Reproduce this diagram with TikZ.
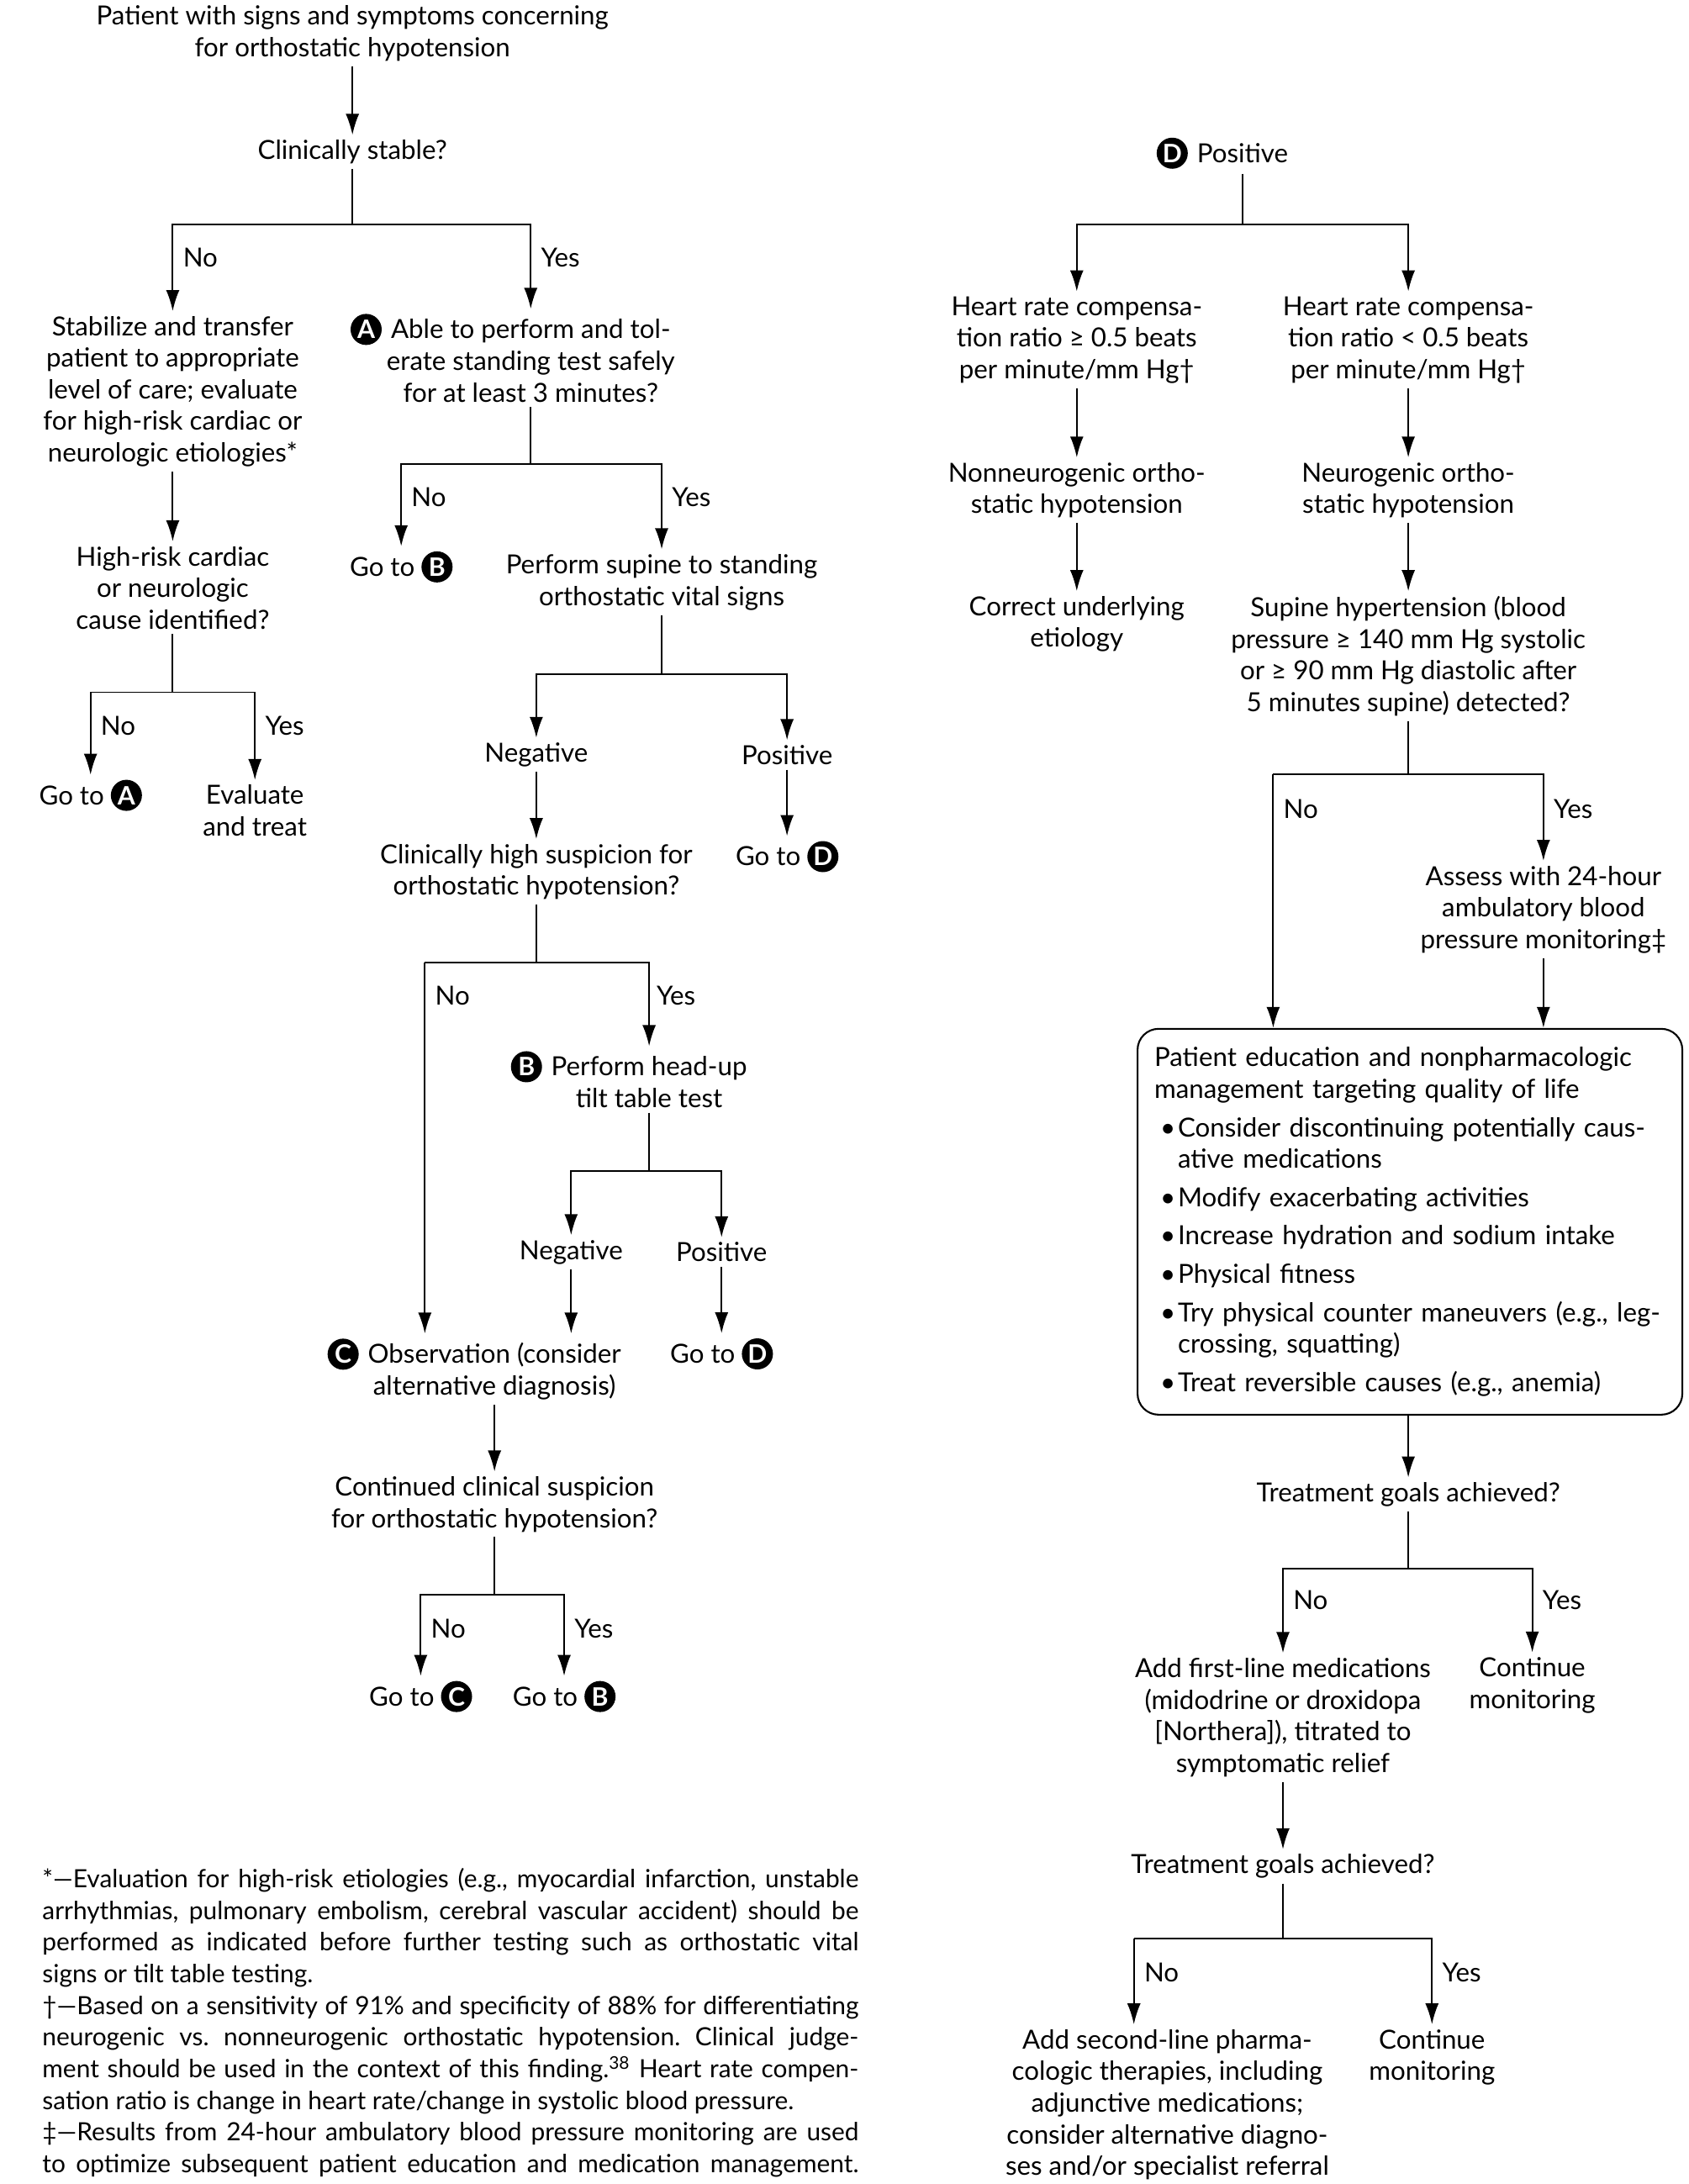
\documentclass[tikz,border=0pt]{standalone}
\usepackage{fontspec}
\setmainfont{Lato}
\usetikzlibrary{arrows.meta}
\tikzset{>={Latex[length=2.5mm,width=1.6mm]}}
\frenchspacing
\newcommand{\flowfont}{\fontsize{8.9pt}{10.7pt}\selectfont}
\newcommand{\notefont}{\fontsize{8.5pt}{10.7pt}\selectfont}
\newcommand{\badge}[1]{\tikz[baseline=(bdg.base)]\node[circle,fill=black,text=white,inner sep=0pt,minimum size=3.7mm,font=\bfseries\fontsize{8.6pt}{8.6pt}\selectfont] (bdg) {#1};}
\newcommand{\hbadge}[1]{\llap{\badge{#1}\hspace{1.1mm}}}
\newcommand{\blt}{\makebox[2.8mm][l]{\hspace{0.7mm}\textbullet}}
\tikzset{
  txt/.style={align=center, inner sep=1.5pt, font=\flowfont},
  lbl/.style={anchor=west, inner sep=0pt, font=\flowfont},
  arr/.style={->, line width=0.55pt},
  bar/.style={line width=0.55pt},
  edubox/.style={draw, line width=0.6pt, rounded corners=2.5mm, anchor=north west, align=left, text width=60.8mm, minimum height=45.9mm, inner xsep=2mm, inner ysep=2mm, font=\flowfont},
  note/.style={anchor=north west, text width=97.1mm, align=justify, inner sep=0pt, font=\notefont}
}
\begin{document}
\begin{tikzpicture}[x=0.1657mm, y=-0.1657mm]
\useasboundingbox (0,0) rectangle (1212,1568);
\node[txt] (pat) at (253,24) {Patient with signs and symptoms concerning\\for orthostatic hypotension};
\node[txt] (stable) at (253,109) {Clinically stable?};
\node[txt] (stab) at (124,281) {Stabilize and transfer\\patient to appropriate\\level of care; evaluate\\for high-risk cardiac or\\neurologic etiologies*};
\node[txt] (able) at (381,257) {\hbadge{A}Able to perform and tol-\\erate standing test safely\\for at least 3 minutes?};
\node[txt] (hrisk) at (124,422) {High-risk cardiac\\or neurologic\\cause identified?};
\node[txt] (gotoA) at (65,571) {Go to \badge{A}};
\node[txt] (evtreat) at (183,582) {Evaluate\\and treat};
\node[txt] (gotoB1) at (288,407) {Go to \badge{B}};
\node[txt] (supine) at (475,418) {Perform supine to standing\\orthostatic vital signs};
\node[txt] (neg1) at (385,542) {Negative};
\node[txt] (pos1) at (565,542) {Positive};
\node[txt] (susp) at (385,626) {Clinically high suspicion for\\orthostatic hypotension?};
\node[txt] (gotoD1) at (565,615) {Go to \badge{D}};
\node[txt] (tilt) at (466,775) {\hbadge{B}Perform head-up\\tilt table test};
\node[txt] (neg2) at (410,899) {Negative};
\node[txt] (pos2) at (518,899) {Positive};
\node[txt] (obs) at (355,983) {\hbadge{C}Observation (consider\\alternative diagnosis)};
\node[txt] (gotoD2) at (518,972) {Go to \badge{D}};
\node[txt] (cont) at (355,1080) {Continued clinical suspicion\\for orthostatic hypotension?};
\node[txt] (gotoC) at (302,1218) {Go to \badge{C}};
\node[txt] (gotoB2) at (405,1218) {Go to \badge{B}};
\node[txt] (posD) at (892,110) {\hbadge{D}Positive};
\node[txt] (hrc1) at (773,244) {Heart rate compensa-\\tion ratio ≥ 0.5 beats\\per minute/mm Hg†};
\node[txt] (hrc2) at (1011,244) {Heart rate compensa-\\tion ratio < 0.5 beats\\per minute/mm Hg†};
\node[txt] (nonneu) at (773,352) {Nonneurogenic ortho-\\static hypotension};
\node[txt] (neu) at (1011,352) {Neurogenic ortho-\\static hypotension};
\node[txt] (correct) at (773,448) {Correct underlying\\etiology};
\node[txt] (supht) at (1011,471) {Supine hypertension (blood\\pressure ≥ 140 mm Hg systolic\\or ≥ 90 mm Hg diastolic after\\5 minutes supine) detected?};
\node[txt] (assess) at (1108,653) {Assess with 24-hour\\ambulatory blood\\pressure monitoring‡};
\node[edubox] (edu) at (816,738) {Patient education and nonpharmacologic\\
management targeting quality of life\\[0.8mm]
\blt Consider discontinuing potentially caus-\\
\hspace*{2.8mm}ative medications\\[0.8mm]
\blt Modify exacerbating activities\\[0.8mm]
\blt Increase hydration and sodium intake\\[0.8mm]
\blt Physical fitness\\[0.8mm]
\blt Try physical counter maneuvers (e.g., leg-\\
\hspace*{2.8mm}crossing, squatting)\\[0.8mm]
\blt Treat reversible causes (e.g., anemia)};
\node[txt] (tg1) at (1011,1073) {Treatment goals achieved?};
\node[txt] (first) at (921,1233) {Add first-line medications\\(midodrine or droxidopa\\{[}Northera{]}), titrated to\\symptomatic relief};
\node[txt] (cont1) at (1100,1210) {Continue\\monitoring};
\node[txt] (tg2) at (921,1340) {Treatment goals achieved?};
\node[txt] (sec) at (838,1511) {Add second-line pharma-\\cologic therapies, including\\adjunctive medications;\\consider alternative diagno-\\ses and/or specialist referral};
\node[txt] (cont2) at (1028,1477) {Continue\\monitoring};
\node[note] (notes) at (30,1341) {*—Evaluation for high-risk etiologies (e.g., myocardial infarction, unstable\linebreak
arrhythmias, pulmonary embolism, cerebral vascular accident) should be\linebreak
performed as indicated before further testing such as orthostatic vital\linebreak
signs or tilt table testing.\par
†—Based on a sensitivity of 91\% and specificity of 88\% for differentiating\linebreak
neurogenic vs. nonneurogenic orthostatic hypotension. Clinical judge-\linebreak
ment should be used in the context of this finding.\textsuperscript{38} Heart rate compen-\linebreak
sation ratio is change in heart rate/change in systolic blood pressure.\par
‡—Results from 24-hour ambulatory blood pressure monitoring are used\linebreak
to optimize subsequent patient education and medication management.{\parfillskip=0pt\par}};
\node[lbl] (no1) at (131,185) {No};
\node[lbl] (yes1) at (388,185) {Yes};
\node[lbl] (no2) at (72,521) {No};
\node[lbl] (yes2) at (190,521) {Yes};
\node[lbl] (no3) at (295,357) {No};
\node[lbl] (yes3) at (482,357) {Yes};
\node[lbl] (no4) at (312,715) {No};
\node[lbl] (yes4) at (471,715) {Yes};
\node[lbl] (no5) at (309,1169) {No};
\node[lbl] (yes5) at (412,1169) {Yes};
\node[lbl] (no6) at (921,581) {No};
\node[lbl] (yes6) at (1115,581) {Yes};
\node[lbl] (no7) at (928,1149) {No};
\node[lbl] (yes7) at (1107,1149) {Yes};
\node[lbl] (no8) at (821,1416) {No};
\node[lbl] (yes8) at (1035,1416) {Yes};
\coordinate (c1) at (253,161);
\coordinate (c2) at (124,497);
\coordinate (c3) at (381,333);
\coordinate (c4) at (475,484);
\coordinate (c5) at (385,691);
\coordinate (c5l) at (305,691);
\coordinate (c6) at (466,841);
\coordinate (c7) at (355,1145);
\coordinate (c8) at (892,161);
\coordinate (c9) at (1011,556);
\coordinate (c9l) at (914,556);
\coordinate (c10) at (1011,1126);
\coordinate (c11) at (921,1392);
\coordinate (c11l) at (814,1392);
\draw[arr] (pat) -- (stable);
\draw[bar] (stable) -- (c1);
\draw[arr] (c1) -| (stab);
\draw[arr] (c1) -| (able);
\draw[arr] (stab) -- (hrisk);
\draw[bar] (hrisk) -- (c2);
\draw[arr] (c2) -| (gotoA);
\draw[arr] (c2) -| (evtreat);
\draw[bar] (able) -- (c3);
\draw[arr] (c3) -| (gotoB1);
\draw[arr] (c3) -| (supine);
\draw[bar] (supine) -- (c4);
\draw[arr] (c4) -| (neg1);
\draw[arr] (c4) -| (pos1);
\draw[arr] (neg1) -- (susp);
\draw[arr] (pos1) -- (gotoD1);
\draw[bar] (susp) -- (c5);
\draw[bar] (c5) -- (c5l);
\draw[arr] (c5l) -- (c5l |- obs.north);
\draw[arr] (c5) -| (tilt);
\draw[bar] (tilt) -- (c6);
\draw[arr] (c6) -| (neg2);
\draw[arr] (c6) -| (pos2);
\draw[arr] (neg2) -- (neg2 |- obs.north);
\draw[arr] (pos2) -- (gotoD2);
\draw[arr] (obs) -- (cont);
\draw[bar] (cont) -- (c7);
\draw[arr] (c7) -| (gotoC);
\draw[arr] (c7) -| (gotoB2);
\draw[bar] (posD) -- (c8);
\draw[arr] (c8) -| (hrc1);
\draw[arr] (c8) -| (hrc2);
\draw[arr] (hrc1) -- (nonneu);
\draw[arr] (hrc2) -- (neu);
\draw[arr] (nonneu) -- (correct);
\draw[arr] (neu) -- (supht);
\draw[bar] (supht) -- (c9);
\draw[bar] (c9) -- (c9l);
\draw[arr] (c9l) -- (c9l |- edu.north);
\draw[arr] (c9) -| (assess);
\draw[arr] (assess) -- (assess |- edu.north);
\draw[arr] (tg1 |- edu.south) -- (tg1);
\draw[bar] (tg1) -- (c10);
\draw[arr] (c10) -| (first);
\draw[arr] (c10) -| (cont1);
\draw[arr] (first) -- (tg2);
\draw[bar] (tg2) -- (c11);
\draw[bar] (c11) -- (c11l);
\draw[arr] (c11l) -- (c11l |- sec.north);
\draw[arr] (c11) -| (cont2);
\end{tikzpicture}
\end{document}
